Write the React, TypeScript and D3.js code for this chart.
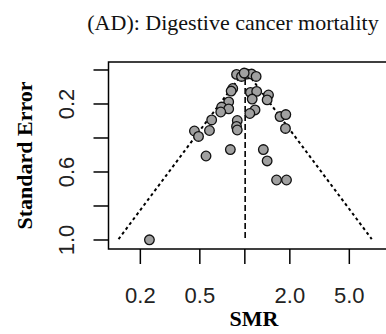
import React from "react";
import * as d3 from "d3";

const title = "(AD): Digestive cancer mortality";
const xLabel = "SMR";
const yLabel = "Standard Error";

const smr = [0.88, 0.95, 1.03, 1.11, 1.19, 0.99, 0.83, 0.81, 1.09, 1.2, 1.12, 1.44, 1.41, 0.78, 0.7, 0.78, 0.69, 1.17, 1.08, 0.6, 0.58, 0.46, 0.49, 0.89, 0.88, 0.89, 1.72, 1.88, 1.87, 0.55, 0.8, 1.33, 1.41, 1.63, 1.9, 0.23];
const se = [0.026, 0.038, 0.024, 0.024, 0.038, 0.018, 0.109, 0.124, 0.132, 0.126, 0.171, 0.147, 0.176, 0.188, 0.218, 0.229, 0.247, 0.235, 0.256, 0.294, 0.356, 0.359, 0.391, 0.297, 0.332, 0.353, 0.274, 0.262, 0.344, 0.506, 0.468, 0.468, 0.535, 0.647, 0.647, 0.999];

const pooled = 1.005;
const seMax = 0.995;

const xTicks = [0.2, 0.5, 1, 2, 5];
const xTickLabels = ["0.2", "0.5", "", "2.0", "5.0"];
const yTicks = [0, 0.2, 0.4, 0.6, 0.8, 1.0];
const yTickLabels = ["", "0.2", "", "0.6", "", "1.0"];

export default function App() {
  const W = 386, H = 334;
  const left = 108.5, right = 400, top = 62, bottom = 249;
  const x = d3.scaleLog().domain([Math.exp(-2.1), Math.exp(2.39)]).range([left, right]);
  const y = d3.scaleLinear().domain([-0.047, 1.053]).range([top, bottom]);
  const line = d3.line<[number, number]>().x(d => x(d[0])).y(d => y(d[1]));
  const lo = pooled * Math.exp(-1.96 * seMax);
  const hi = pooled * Math.exp(1.96 * seMax);
  const tickLen = 15;
  const sans = "'Liberation Sans', Arial, sans-serif";
  const serif = "'Liberation Serif', 'Times New Roman', serif";
  return (
    <svg width={W} height={H} style={{ position: "absolute", left: 0, top: 0, background: "#fff" }}>
      <rect x={0} y={0} width={W} height={H} fill="#fff" />
      <text x={233} y={30} textAnchor="middle" fontFamily={serif} fontSize={22} fill="#111">{title}</text>
      {/* funnel lines */}
      <path d={line([[lo, seMax], [pooled, 0], [hi, seMax]]) || ""} fill="none" stroke="#000" strokeWidth={2} strokeDasharray="3,3" />
      <path d={line([[pooled, 0], [pooled, seMax]]) || ""} fill="none" stroke="#000" strokeWidth={1.6} strokeDasharray="6,3" />
      {/* points */}
      {smr.map((v, i) => (
        <circle key={i} cx={x(v)} cy={y(se[i])} r={4.8} fill="#a0a0a0" stroke="#111" strokeWidth={1.3} />
      ))}
      {/* box */}
      <rect x={left} y={top} width={right - left} height={bottom - top} fill="none" stroke="#000" strokeWidth={1.5} />
      {/* x axis */}
      {xTicks.map((t, i) => (
        <g key={"xt" + i}>
          <line x1={x(t)} x2={x(t)} y1={bottom} y2={bottom + tickLen} stroke="#000" strokeWidth={1.5} />
          {xTickLabels[i] && (
            <text x={x(t)} y={303} textAnchor="middle" fontFamily={sans} fontSize={22} fill="#222">{xTickLabels[i]}</text>
          )}
        </g>
      ))}
      {/* y axis */}
      {yTicks.map((t, i) => (
        <g key={"yt" + i}>
          <line x1={left - tickLen} x2={left} y1={y(t)} y2={y(t)} stroke="#000" strokeWidth={1.5} />
          {yTickLabels[i] && (
            <text transform={`translate(74,${y(t)}) rotate(-90)`} textAnchor="middle" fontFamily={sans} fontSize={22} fill="#222">{yTickLabels[i]}</text>
          )}
        </g>
      ))}
      <text x={254} y={326} textAnchor="middle" fontFamily={serif} fontWeight="bold" fontSize={22} fill="#000">{xLabel}</text>
      <text transform={`translate(32,${(top + bottom) / 2}) rotate(-90)`} textAnchor="middle" fontFamily={serif} fontWeight="bold" fontSize={22} fill="#000">{yLabel}</text>
    </svg>
  );
}
